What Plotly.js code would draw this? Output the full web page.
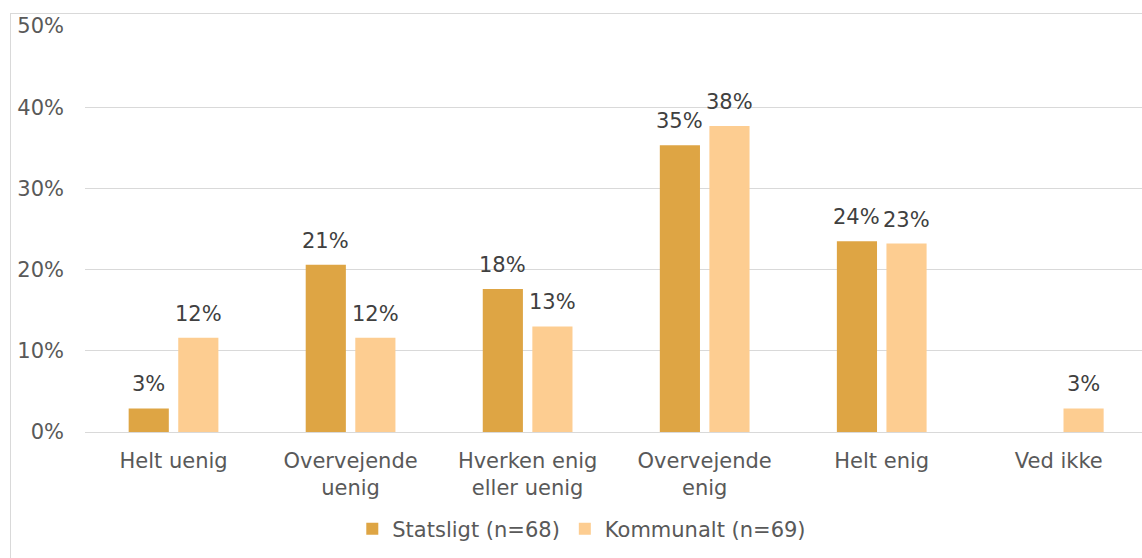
<!DOCTYPE html>
<html><head><meta charset="utf-8">
<script src="https://cdn.plot.ly/plotly-3.0.1.min.js"></script>
<style>
html,body{margin:0;padding:0;background:#fff;}
#frame{position:absolute;left:10px;top:13px;width:1140px;height:560px;border-left:1px solid #d9d9d9;border-top:1px solid #d9d9d9;}
#chart{position:absolute;left:0;top:0;width:1142px;height:558px;}
</style></head>
<body>
<div id="frame"></div>
<div id="chart"></div>
<script>
const categories = ["Helt uenig", "Overvejende<br>uenig", "Hverken enig<br>eller uenig", "Overvejende<br>enig", "Helt enig", "Ved ikke"];
const seriesNames = ["Statsligt (n=68)", "Kommunalt (n=69)"];
const statsligt = [0.029, 0.206, 0.176, 0.353, 0.235, 0];
const kommunalt = [0.116, 0.116, 0.130, 0.377, 0.232, 0.029];
const yTicks = [0, 0.1, 0.2, 0.3, 0.4, 0.5];
const yTickLabels = ["0%", "10%", "20%", "30%", "40%", "50%"];

const colors = ["#DEA544", "#FDCD91"];
const font = "DejaVu Sans, Verdana, sans-serif";
const series = [statsligt, kommunalt];

const traces = series.map((vals, s) => ({
  type: "bar", name: seriesNames[s], x: categories, y: vals,
  marker: {color: colors[s]}, hoverinfo: "skip"
}));

const annotations = [];
series.forEach((vals, s) => {
  vals.forEach((v, i) => {
    if (v > 0) annotations.push({
      x: categories[i], y: v, xref: "x", yref: "y",
      text: Math.round(v * 100) + "%", showarrow: false,
      yanchor: "bottom", xanchor: "center",
      xshift: s === 0 ? -24.8 : 24.8, yshift: 10,
      font: {family: font, size: 21, color: "#404040"}
    });
  });
});

const layout = {
  width: 1142, height: 558,
  margin: {l: 85, r: 0, t: 26, b: 126},
  paper_bgcolor: "rgba(0,0,0,0)", plot_bgcolor: "rgba(0,0,0,0)",
  barmode: "group", bargap: 0.44, bargroupgap: 0.19,
  font: {family: font, size: 21, color: "#595959"},
  xaxis: {type: "category", range: [-0.5, 5.47], showgrid: false, showline: false, zeroline: false,
    ticks: "", ticklabelstandoff: 14, tickfont: {family: font, size: 21, color: "#595959"}},
  yaxis: {range: [0, 0.5], tickvals: yTicks, ticktext: yTickLabels,
    showgrid: true, gridcolor: "#d9d9d9", gridwidth: 1, zeroline: true,
    zerolinecolor: "#d9d9d9", zerolinewidth: 1, showline: false, ticks: "",
    ticklabelstandoff: 20,
    tickfont: {family: font, size: 21, color: "#595959"}},
  showlegend: true,
  legend: {orientation: "h", x: 0.47, xanchor: "center", y: -0.239, yanchor: "middle",
    font: {family: font, size: 21, color: "#595959"}, traceorder: "normal"},
  annotations: annotations
};

Plotly.newPlot("chart", traces, layout, {staticPlot: true});
</script>
</body></html>
